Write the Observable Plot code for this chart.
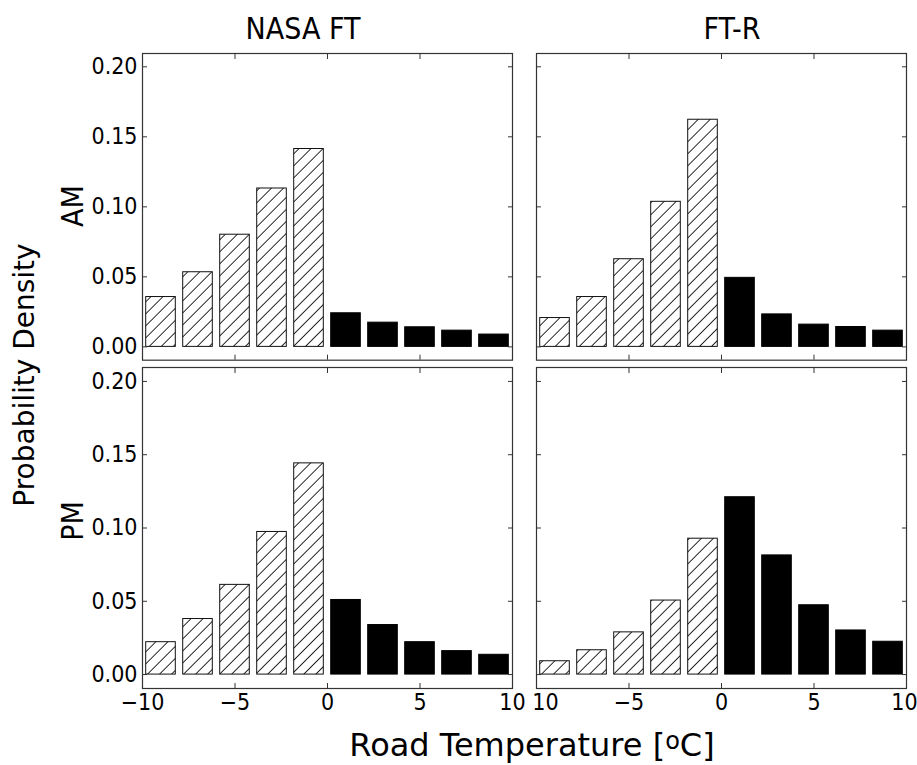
<!DOCTYPE html>
<html><head><meta charset="utf-8">
<script src="https://cdn.jsdelivr.net/npm/d3@7"></script>
<script src="https://cdn.jsdelivr.net/npm/@observablehq/plot@0.6"></script>
<style>
body{margin:0;background:#fff;}
#wrap{position:relative;width:917px;height:765px;overflow:hidden;font-family:"DejaVu Sans",sans-serif;color:#000;}
.t{position:absolute;white-space:nowrap;line-height:1;}
.cond{font-family:"DejaVu Sans Condensed","DejaVu Sans",sans-serif;font-stretch:condensed;}
.pw{position:absolute;}
.pw svg{max-width:none !important;}
.rot{transform:translate(-50%,-50%) rotate(-90deg);}
.ctr{transform:translate(-50%,-50%);}
</style></head><body>
<svg width="0" height="0" style="position:absolute"><defs>
<pattern id="hatch" patternUnits="userSpaceOnUse" width="8.5" height="8.5" patternTransform="rotate(45)">
<rect width="8.5" height="8.5" fill="#fff"/>
<line x1="4.25" y1="-1" x2="4.25" y2="9.5" stroke="#111" stroke-width="0.9"/>
</pattern></defs></svg>
<div id="wrap">
  <div class="t cond ctr" style="left:303px;top:29px;font-size:30px;">NASA FT</div>
  <div class="t cond ctr" style="left:732px;top:29px;font-size:30px;">FT-R</div>
  <div class="t cond rot" style="left:73px;top:206px;font-size:30px;">AM</div>
  <div class="t cond rot" style="left:73px;top:521px;font-size:30px;">PM</div>
  <div class="t rot" style="left:25px;top:375px;font-size:28px;">Probability Density</div>
  <div class="t ctr" style="left:532px;top:745px;font-size:32px;line-height:32px;">Road Temperature [<span style="font-size:0.75em;position:relative;top:-0.3em;line-height:0">o</span>C]</div>
</div>
<script>
const binEdges = [-10, -8, -6, -4, -2, 0, 2, 4, 6, 8, 10];
const columns = ["NASA FT", "FT-R"];
const rows = ["AM", "PM"];
const nasaAM = [0.0356, 0.0533, 0.0801, 0.1131, 0.1413, 0.0240, 0.0173, 0.0140, 0.0116, 0.0088];
const ftrAM  = [0.0206, 0.0356, 0.0626, 0.1036, 0.1622, 0.0493, 0.0232, 0.0159, 0.0142, 0.0116];
const nasaPM = [0.0221, 0.0379, 0.0612, 0.0973, 0.1441, 0.0509, 0.0338, 0.0221, 0.0160, 0.0135];
const ftrPM  = [0.0091, 0.0166, 0.0288, 0.0505, 0.0927, 0.1210, 0.0813, 0.0473, 0.0301, 0.0224];
const xTicks = [-10, -5, 0, 5, 10];
const yTicks = [0, 0.05, 0.10, 0.15, 0.20];

const wrap = document.getElementById("wrap");
const fmtX = d3.format("d");
const fmtY = d3.format(".2f");
const blank = () => "";
const tickStyle = {fontFamily: '"DejaVu Sans Condensed","DejaVu Sans",sans-serif', fontStretch: "condensed", fontSize: "23px", background: "transparent", overflow: "visible", color: "#000", maxWidth: "none"};

function panel(vals, col, row) {
  const frameL = col === 0 ? 142 : 536;
  const frameT = row === 0 ? 53.3 : 367.3;
  const H = row === 0 ? 306.7 : 321;
  const W = 370;
  const mL = 80, mR = 30, mT = 10, mB = 40;
  const data = vals.map((v, i) => ({x1: binEdges[i], x2: binEdges[i + 1], v}));
  const marks = [
    Plot.rectY(data.filter(d => d.x2 <= 0), {x1: "x1", x2: "x2", y: "v", fill: "url(#hatch)", stroke: "#111", strokeWidth: 1, insetLeft: 3.7, insetRight: 3.7}),
    Plot.rectY(data.filter(d => d.x1 >= 0), {x1: "x1", x2: "x2", y: "v", fill: "#000", stroke: "#000", strokeWidth: 1, insetLeft: 3.7, insetRight: 3.7}),
    Plot.frame({stroke: "#333", strokeWidth: 1.2}),
    Plot.axisX(xTicks, {anchor: "top", tickSize: -5, tickFormat: blank, label: null, stroke: "#333"}),
    Plot.axisY(yTicks, {anchor: "right", tickSize: -5, tickFormat: blank, label: null, stroke: "#333"}),
    Plot.axisY(yTicks, {anchor: "left", tickSize: -5, tickPadding: 10, tickFormat: col === 0 ? fmtY : blank, label: null, stroke: "#333"})
  ];
  if (row === 1 && col === 1) {
    marks.push(Plot.axisX(xTicks.filter(d => d !== -10 && d !== 10), {anchor: "bottom", tickSize: -5, tickPadding: 10, tickFormat: fmtX, label: null, stroke: "#333"}));
    marks.push(Plot.axisX(xTicks.filter(d => d === -10), {anchor: "bottom", tickSize: 0, tickPadding: 5, tickFormat: d => fmtX(Math.abs(d)), dx: 9, label: null}));
    marks.push(Plot.axisX(xTicks.filter(d => d === 10), {anchor: "bottom", tickSize: 0, tickPadding: 5, tickFormat: fmtX, dx: -2, label: null}));
  } else {
    marks.push(Plot.axisX(xTicks, {anchor: "bottom", tickSize: -5, tickPadding: 10, tickFormat: row === 1 ? fmtX : blank, label: null, stroke: "#333"}));
  }
  const p = Plot.plot({
    width: W + mL + mR, height: H + mT + mB,
    marginLeft: mL, marginRight: mR, marginTop: mT, marginBottom: mB,
    x: {domain: [-10, 10]},
    y: {domain: [-0.0095, 0.2095]},
    style: tickStyle,
    marks
  });
  const div = document.createElement("div");
  div.className = "pw";
  div.style.left = (frameL - mL) + "px";
  div.style.top = (frameT - mT) + "px";
  div.style.width = (W + mL + mR) + "px";
  div.style.height = (H + mT + mB) + "px";
  div.appendChild(p);
  wrap.appendChild(div);
}
panel(nasaAM, 0, 0);
panel(ftrAM, 1, 0);
panel(nasaPM, 0, 1);
panel(ftrPM, 1, 1);
</script>
</body></html>
